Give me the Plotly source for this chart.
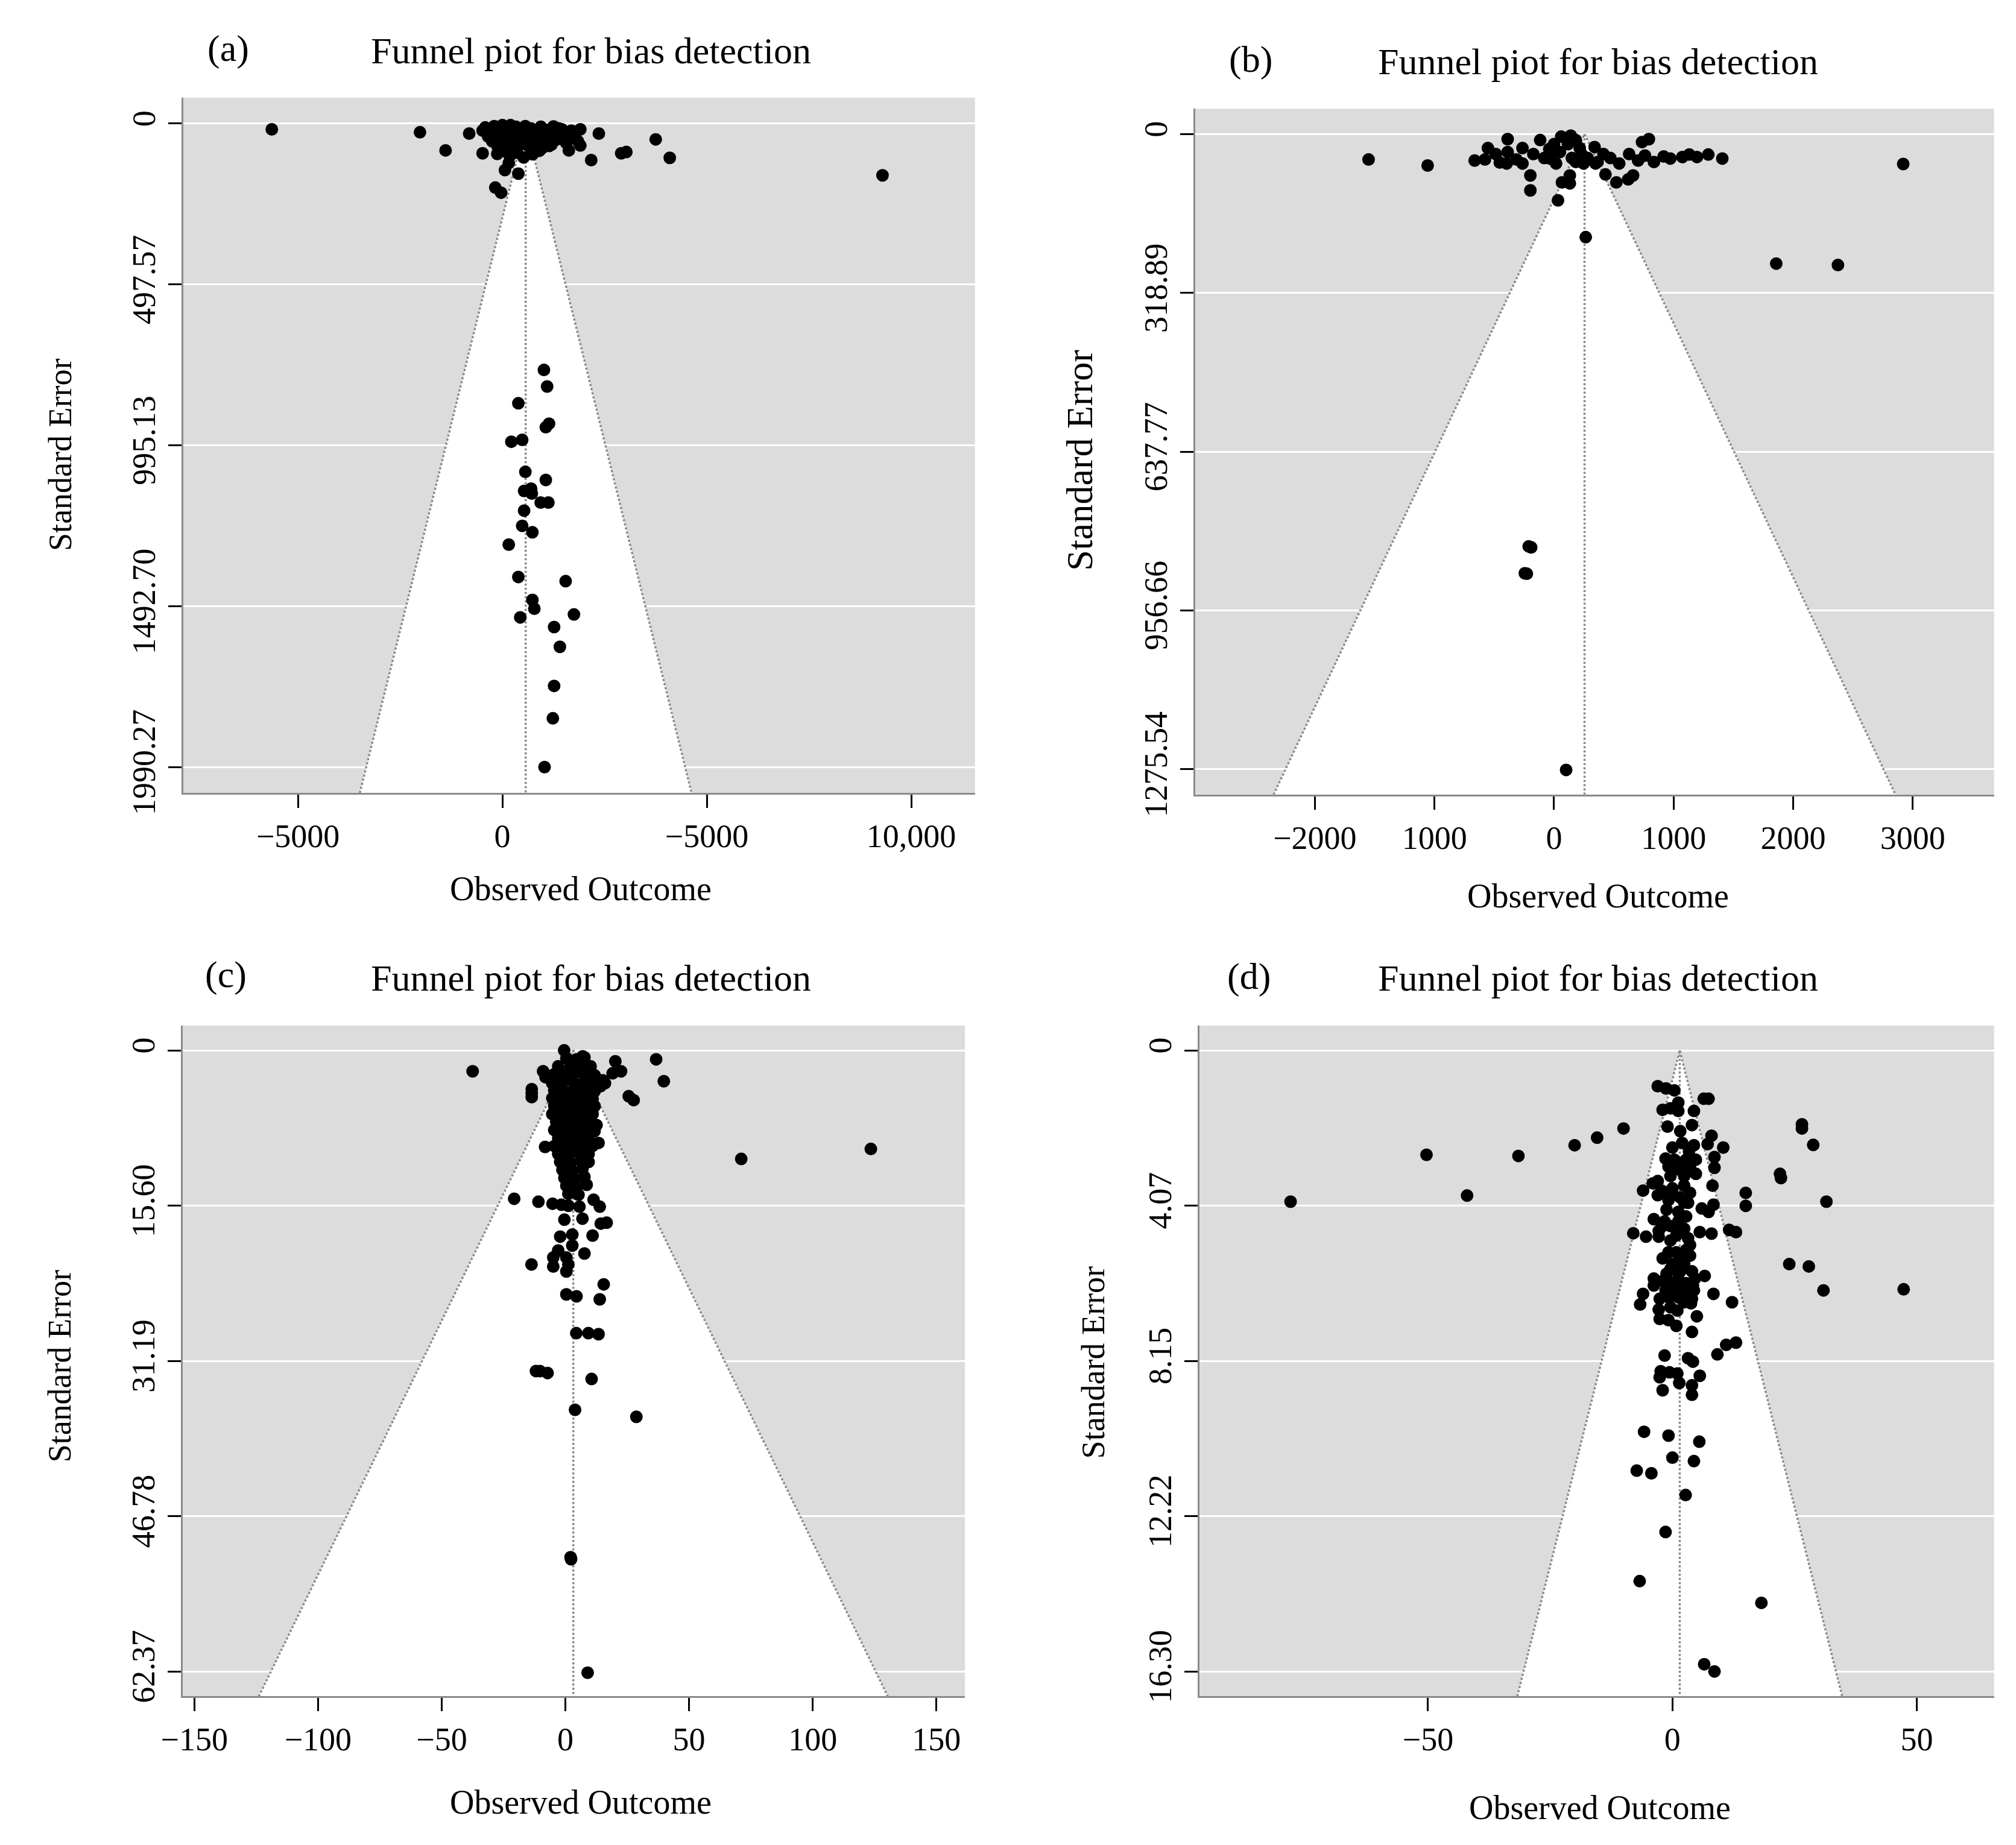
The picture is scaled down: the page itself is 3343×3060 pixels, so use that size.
import plotly.graph_objects as go

FONT = "Liberation Serif"
GRAY = "#8a8a8a"
BG = "#dcdcdc"

# ---------------- panel (a) ----------------
a_est = 570
a_se_max = 1990.27
a_xrange = [-7810, 11560]
a_xticks = [-5000, 0, 5000, 10000]
a_xtext = ["\u22125000", "0", "\u22125000", "10,000"]
a_yticks = [0, 497.57, 995.13, 1492.70, 1990.27]
a_ytext = ["0", "497.57", "995.13", "1492.70", "1990.27"]
a_points = [
    (-5640, 18), (-2016, 27), (-1390, 83), (-812, 31), (-484, 22), (-484, 92),
    (-125, 94), (62, 144), (156, 122), (390, 155), (-174, 198), (-32, 214),
    (1250, 9), (1453, 18), (1687, 22), (1906, 18), (1625, 83), (1906, 68),
    (2172, 113), (2359, 31), (2906, 92), (3031, 88), (3750, 49), (4094, 106),
    (9297, 160), (906, 84), (1149, 69),
    (-420, 12), (-350, 40), (-300, 25), (-250, 55), (-200, 8), (-150, 35),
    (-120, 70), (-80, 20), (-40, 50), (0, 5), (20, 85), (50, 30), (80, 60),
    (110, 15), (150, 45), (180, 100), (200, 5), (230, 75), (260, 28),
    (300, 55), (330, 10), (360, 90), (400, 38), (430, 65), (460, 18),
    (500, 48), (520, 105), (560, 8), (600, 30), (640, 70), (680, 50),
    (700, 15), (740, 95), (780, 35), (820, 60), (860, 22), (900, 45),
    (940, 10), (980, 75), (1020, 30), (1060, 55), (1100, 20), (1150, 40),
    (1200, 65), (1260, 30), (1320, 50), (1380, 15), (1450, 45), (1500, 30),
    (1560, 60), (1650, 25), (1720, 45), (1780, 35), (1850, 55),
    (1016, 762), (1094, 813), (390, 865), (1141, 928), (1062, 939),
    (219, 984), (484, 978), (562, 1077), (1062, 1102), (531, 1136),
    (703, 1129), (719, 1144), (937, 1172), (1125, 1172), (531, 1197),
    (484, 1244), (734, 1264), (156, 1302), (390, 1402), (1547, 1415),
    (734, 1473), (781, 1500), (437, 1527), (1750, 1518), (1265, 1557),
    (1406, 1618), (1265, 1739), (1234, 1839), (1031, 1990),
]

# ---------------- panel (b) ----------------
b_est = 255
b_se_max = 1275.54
b_xrange = [-3001, 3680]
b_xticks = [-2000, -1000, 0, 1000, 2000, 3000]
b_xtext = ["\u22122000", "1000", "0", "1000", "2000", "3000"]
b_yticks = [0, 318.89, 637.77, 956.66, 1275.54]
b_ytext = ["0", "318.89", "637.77", "956.66", "1275.54"]
b_points = [
    (-1551, 51), (-1057, 63), (-664, 53), (-578, 51), (-553, 28), (-487, 40),
    (-454, 57), (-388, 10), (-388, 36), (-396, 59), (-314, 51), (-264, 28),
    (-264, 59), (-198, 83), (-198, 113), (-173, 40), (-116, 12), (-82, 48),
    (0, 20), (17, 59), (66, 97), (33, 133), (132, 83), (132, 99), (116, 20),
    (182, 12), (215, 28), (149, 48), (182, 56), (281, 48), (339, 26),
    (347, 59), (413, 40), (430, 81), (471, 48), (521, 97), (545, 59),
    (620, 91), (661, 83), (628, 40), (703, 53), (736, 16), (793, 10),
    (760, 43), (835, 56), (917, 45), (-33, 49), (247, 59), (49, 36),
    (364, 56), (60, 5), (100, 8), (140, 3), (-40, 30), (230, 40),
    (972, 49), (1073, 46), (1131, 41), (1195, 46), (1290, 41), (1407, 49),
    (265, 207), (1858, 260), (2374, 263), (2920, 60),
    (-212, 828), (-191, 830), (-244, 882), (-228, 883), (101, 1277),
]

# ---------------- panel (c) ----------------
c_est = 3.2
c_se_max = 62.37
c_xrange = [-154.8, 161.5]
c_xticks = [-150, -100, -50, 0, 50, 100, 150]
c_xtext = ["\u2212150", "\u2212100", "\u221250", "0", "50", "100", "150"]
c_yticks = [0, 15.59, 31.19, 46.78, 62.37]
c_ytext = ["0", "15.60", "31.19", "46.78", "62.37"]
c_points = [
    (-37.5, 2.1), (36.7, 0.9), (39.8, 3.1), (25.6, 4.6), (27.6, 5.0),
    (71.1, 10.9), (123.5, 9.9), (-0.5, 0.0), (7.0, 0.6),
    (20.2, 1.1), (22.5, 2.1), (19.1, 2.3), (16.0, 3.3), (14.2, 3.6),
    (-9.0, 2.1), (-8.0, 2.7), (-13.6, 3.9), (-13.6, 4.3), (-13.6, 4.7),
    (-8.2, 9.7), (12.6, 7.5), (13.4, 9.3),
    (0.4, 0.8), (4.5, 0.9), (7.7, 0.7),
    (-2.9, 1.6), (2.0, 1.7), (6.1, 1.5), (10.2, 1.6),
    (-4.5, 2.4), (-0.4, 2.5), (3.7, 2.3), (7.7, 2.4), (11.8, 2.5),
    (-5.3, 3.3), (-1.2, 3.2), (2.8, 3.1), (6.9, 3.3), (11.0, 3.2), (15.1, 3.0),
    (-4.5, 4.0), (-0.4, 4.1), (3.7, 3.9), (7.7, 4.0), (11.8, 4.1),
    (-5.3, 4.8), (-1.2, 4.9), (2.8, 4.7), (6.9, 4.8), (11.0, 4.9),
    (-4.5, 5.6), (-0.4, 5.5), (3.7, 5.7), (7.7, 5.6), (11.8, 5.6),
    (-5.3, 6.4), (-1.2, 6.5), (2.8, 6.3), (6.9, 6.4), (11.0, 6.4),
    (-3.7, 7.2), (0.4, 7.3), (4.5, 7.1), (8.6, 7.2),
    (-4.5, 8.0), (-0.4, 8.1), (3.7, 7.9), (7.7, 8.0), (11.8, 8.1),
    (-2.9, 8.8), (1.2, 8.9), (5.3, 8.7), (9.4, 8.8),
    (-4.5, 9.6), (-0.4, 9.7), (3.7, 9.5), (7.7, 9.6), (11.0, 9.6),
    (-2.9, 10.4), (1.2, 10.5), (5.3, 10.3), (9.4, 10.4),
    (-2.1, 11.2), (2.0, 11.3), (6.1, 11.1), (9.4, 11.2),
    (-1.2, 12.0), (2.8, 12.1), (6.9, 11.9),
    (-0.4, 12.8), (3.7, 12.9), (7.7, 12.7),
    (0.4, 13.6), (4.5, 13.7), (8.6, 13.5),
    (1.2, 14.4), (5.3, 14.5),
    (-20.7, 14.9), (-10.9, 15.2), (-5.2, 15.4), (-1.6, 15.5), (1.2, 15.6),
    (5.7, 15.7), (11.4, 15.0), (13.9, 15.7), (-0.4, 17.0), (6.9, 16.9),
    (14.3, 17.4), (16.7, 17.3), (-2.1, 18.7), (2.8, 18.5), (11.0, 18.6),
    (-2.9, 20.1), (2.8, 19.6), (7.7, 20.4), (-4.9, 20.8), (0.4, 20.8),
    (-13.7, 21.5), (-4.9, 21.7), (1.2, 21.5), (0.4, 22.2), (15.5, 23.5),
    (0.4, 24.5), (4.5, 24.7), (13.9, 25.0),
    (4.4, 28.4), (9.3, 28.4), (13.4, 28.5),
    (-11.9, 32.2), (-10.3, 32.2), (-7.2, 32.4), (10.6, 33.0),
    (3.9, 36.1), (28.7, 36.8), (2.1, 50.9), (2.3, 51.1), (9.0, 62.5),
]

# ---------------- panel (d) ----------------
d_est = 1.5
d_se_max = 16.30
d_xrange = [-96.8, 65.8]
d_xticks = [-50, 0, 50]
d_xtext = ["\u221250", "0", "50"]
d_yticks = [0, 4.07, 8.15, 12.22, 16.30]
d_ytext = ["0", "4.07", "8.15", "12.22", "16.30"]
d_points = [
    (-78.1, 3.97), (-50.3, 2.74), (-42.0, 3.81), (-31.5, 2.77), (-20.0, 2.49),
    (-15.4, 2.29), (-10.0, 2.05), (26.5, 1.94), (26.5, 2.05), (28.8, 2.48),
    (22.0, 3.24), (22.2, 3.35), (31.5, 3.97), (47.3, 6.27), (23.9, 5.61),
    (27.9, 5.67), (30.9, 6.30), (15.0, 3.74), (15.0, 4.08),
    (-7.3, 11.03), (-4.3, 11.10), (2.7, 11.67), (-1.4, 12.64), (-6.7, 13.93),
    (18.2, 14.50), (6.5, 16.11), (8.6, 16.30), (0.0, 10.69), (4.4, 10.78),
    (-5.8, 10.01), (-0.8, 10.11), (5.5, 10.27),
    (-3.0, 0.94), (-1.3, 1.00), (0.4, 1.05), (6.4, 1.27), (7.4, 1.27),
    (-2.0, 1.56), (-0.4, 1.52), (1.2, 1.37), (1.2, 1.59), (4.4, 1.59),
    (-1.0, 2.00), (1.6, 2.12), (4.0, 1.96), (8.0, 2.24), (7.2, 2.46),
    (10.4, 2.55), (8.6, 2.80), (8.6, 3.08), (0.0, 2.55), (2.0, 2.43),
    (3.4, 2.65), (4.4, 2.49), (2.8, 2.87), (4.8, 2.87), (-1.4, 2.84),
    (-0.8, 3.05), (4.8, 3.24), (1.2, 3.12), (2.4, 3.30), (-0.4, 3.30),
    (-3.0, 3.43), (-4.0, 3.49), (-6.0, 3.68), (-2.2, 3.68), (0.0, 3.62),
    (2.4, 3.55), (3.6, 3.74), (8.2, 3.55), (-3.0, 3.80), (-0.8, 3.93),
    (1.6, 3.86), (3.2, 4.00), (6.0, 4.15), (7.4, 4.24), (8.4, 4.05),
    (-1.2, 4.18), (1.2, 4.24), (2.8, 4.36), (-3.8, 4.43), (-1.6, 4.49),
    (-8.0, 4.80), (-5.4, 4.89), (-2.8, 4.89), (-0.4, 4.99), (1.6, 4.74),
    (3.2, 4.93), (5.6, 4.77), (8.0, 4.81), (11.6, 4.71), (13.0, 4.77),
    (-2.0, 4.61), (-2.8, 4.74), (-0.8, 5.30), (0.8, 5.30), (3.6, 5.11),
    (-2.0, 5.46), (0.0, 5.61), (1.6, 5.42), (3.6, 5.39), (-0.4, 5.74),
    (1.6, 5.80), (4.0, 5.80), (6.6, 5.92), (-3.8, 5.99), (-3.8, 6.17),
    (-2.0, 6.05), (-0.4, 6.11), (1.2, 5.99), (2.8, 6.11), (4.2, 6.17),
    (4.6, 5.99), (-1.4, 6.30), (0.4, 6.27), (2.8, 6.36), (4.4, 6.30),
    (-6.0, 6.39), (-6.6, 6.67), (8.4, 6.39), (12.2, 6.61), (-2.6, 6.52),
    (-0.6, 6.49), (1.4, 6.49), (4.0, 6.52), (3.8, 6.64), (-2.8, 6.80),
    (1.0, 6.83), (-2.6, 7.05), (-0.8, 7.08), (0.8, 7.23), (5.0, 6.98),
    (4.0, 7.39), (13.0, 7.67), (11.0, 7.73), (9.2, 7.98), (-1.6, 8.01),
    (3.2, 8.08), (4.2, 8.17), (-2.4, 8.42), (-0.6, 8.45), (1.0, 8.48),
    (1.4, 8.73), (-2.6, 8.58), (5.6, 8.54), (4.0, 8.79), (4.0, 9.04),
    (-2.0, 8.92),
    (0.4, 2.87), (1.6, 3.09), (3.6, 3.05), (0.0, 3.80), (2.4, 3.99),
    (1.2, 4.49), (-0.4, 4.61), (2.4, 4.68), (0.8, 4.86), (2.8, 5.24),
    (0.4, 5.74), (2.4, 5.61), (-1.2, 5.86), (1.2, 6.30), (2.4, 6.61),
    (-0.4, 6.74),
]

panels = [
    dict(label="(a)", est=a_est, se_max=a_se_max, xrange=a_xrange, xticks=a_xticks,
         xtext=a_xtext, yticks=a_yticks, ytext=a_ytext, points=a_points,
         xdom=[0.0785, 0.4756], ydom=[0.5676, 0.949],
         title_xy=(0.283, 0.975), lab_xy=(0.101, 0.976), xt_xy=(0.278, 0.515),
         yt_xy=(0.0167, 0.753), yt_size=54),
    dict(label="(b)", est=b_est, se_max=b_se_max, xrange=b_xrange, xticks=b_xticks,
         xtext=b_xtext, yticks=b_yticks, ytext=b_ytext, points=b_points,
         xdom=[0.586, 0.9866], ydom=[0.5667, 0.943],
         title_xy=(0.788, 0.969), lab_xy=(0.614, 0.970), xt_xy=(0.788, 0.511),
         yt_xy=(0.528, 0.750), yt_size=62),
    dict(label="(c)", est=c_est, se_max=c_se_max, xrange=c_xrange, xticks=c_xticks,
         xtext=c_xtext, yticks=c_yticks, ytext=c_ytext, points=c_points,
         xdom=[0.0782, 0.4705], ydom=[0.072, 0.440],
         title_xy=(0.283, 0.466), lab_xy=(0.100, 0.468), xt_xy=(0.278, 0.014),
         yt_xy=(0.0167, 0.253), yt_size=54),
    dict(label="(d)", est=d_est, se_max=d_se_max, xrange=d_xrange, xticks=d_xticks,
         xtext=d_xtext, yticks=d_yticks, ytext=d_ytext, points=d_points,
         xdom=[0.588, 0.9866], ydom=[0.072, 0.440],
         title_xy=(0.788, 0.466), lab_xy=(0.613, 0.467), xt_xy=(0.789, 0.011),
         yt_xy=(0.535, 0.255), yt_size=54),
]

fig = go.Figure()
annotations = []
layout = {}


def note(text, xy, size, angle=0):
    return dict(text=text, x=xy[0], y=xy[1], xref="paper", yref="paper",
                xanchor="center", yanchor="middle", showarrow=False, textangle=angle,
                font=dict(family=FONT, size=size, color="black"))


for i, p in enumerate(panels, start=1):
    suffix = "" if i == 1 else str(i)
    xa, ya = "x" + suffix, "y" + suffix
    se_lo = -0.04 * p["se_max"]
    se_hi = 1.04 * p["se_max"]
    half = 1.96 * se_hi

    # white funnel region
    fig.add_trace(go.Scatter(
        x=[p["est"] - half, p["est"], p["est"] + half, p["est"] - half],
        y=[se_hi, 0, se_hi, se_hi], mode="lines", fill="toself",
        fillcolor="white", line=dict(width=0), hoverinfo="skip",
        showlegend=False, xaxis=xa, yaxis=ya))
    # funnel edges
    fig.add_trace(go.Scatter(
        x=[p["est"] - half, p["est"], p["est"] + half], y=[se_hi, 0, se_hi],
        mode="lines", line=dict(color=GRAY, width=3.5, dash="dot"),
        showlegend=False, xaxis=xa, yaxis=ya))
    # pooled estimate
    fig.add_trace(go.Scatter(
        x=[p["est"], p["est"]], y=[0, se_hi], mode="lines",
        line=dict(color=GRAY, width=3.5, dash="dot"),
        showlegend=False, xaxis=xa, yaxis=ya))
    # studies
    fig.add_trace(go.Scatter(
        x=[pt[0] for pt in p["points"]], y=[pt[1] for pt in p["points"]],
        mode="markers", marker=dict(color="black", size=21),
        showlegend=False, xaxis=xa, yaxis=ya))

    layout["xaxis" + suffix] = dict(
        domain=p["xdom"], anchor=ya, range=p["xrange"], showgrid=False,
        zeroline=False, showline=True, linecolor=GRAY, linewidth=3,
        tickvals=p["xticks"], ticktext=p["xtext"],
        ticks="outside", ticklen=22, tickcolor="black", tickwidth=3,
        tickfont=dict(family=FONT, size=54, color="black"))
    layout["yaxis" + suffix] = dict(
        domain=p["ydom"], anchor=xa, range=[se_hi, se_lo], showgrid=True,
        gridcolor="white", gridwidth=3, zeroline=False, showline=True,
        linecolor=GRAY, linewidth=3, tickvals=p["yticks"], ticktext=p["ytext"],
        ticks="outside", ticklen=22, tickcolor="black", tickwidth=3, tickangle=-90,
        tickfont=dict(family=FONT, size=54, color="black"))

    annotations.append(note("Funnel piot for bias detection", p["title_xy"], 62))
    annotations.append(note(p["label"], p["lab_xy"], 62))
    annotations.append(note("Observed Outcome", p["xt_xy"], 56))
    annotations.append(note("Standard Error", p["yt_xy"], p["yt_size"], -90))

fig.update_layout(
    width=3343, height=3060,
    margin=dict(l=0, r=0, t=0, b=0),
    paper_bgcolor="white", plot_bgcolor=BG,
    annotations=annotations,
    **layout
)

fig.write_html("out.html")
